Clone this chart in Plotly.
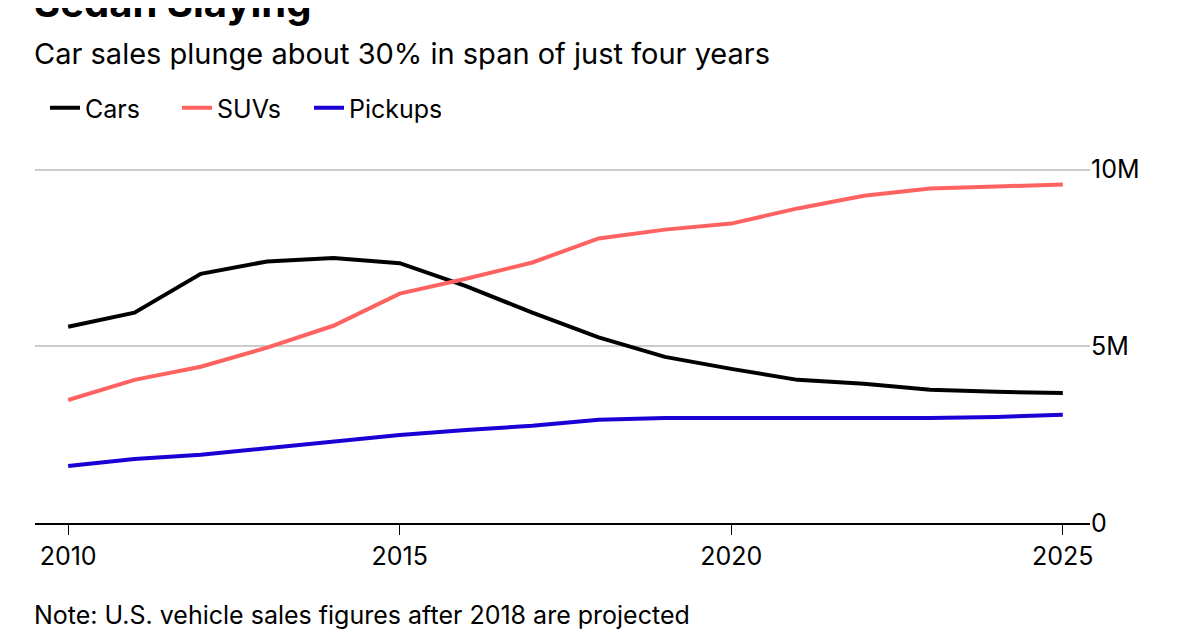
import plotly.graph_objects as go

years = list(range(2010, 2026))
cars = [5.55, 5.95, 7.05, 7.4, 7.5, 7.35, 6.7, 5.95, 5.25, 4.7, 4.36, 4.05, 3.94, 3.77, 3.71, 3.68]
suvs = [3.48, 4.05, 4.42, 4.96, 5.58, 6.49, 6.91, 7.37, 8.05, 8.3, 8.47, 8.9, 9.26, 9.46, 9.52, 9.58]
pickups = [1.61, 1.81, 1.93, 2.12, 2.29, 2.49, 2.63, 2.75, 2.92, 2.97, 2.97, 2.97, 2.97, 2.97, 3.0, 3.06]

FONT = "Inter, 'Liberation Sans', Arial, sans-serif"

fig = go.Figure()
for name, vals, color in [("Cars", cars, "#000000"), ("SUVs", suvs, "#ff6361"), ("Pickups", pickups, "#1b00d6")]:
    fig.add_trace(go.Scatter(x=years, y=[v * 1e6 for v in vals], mode="lines", name=name,
                             line=dict(color=color, width=4)))

# page has an 8px body margin, so figure coords are screen coords minus 8
fig.update_layout(
    width=1200, height=630,
    margin=dict(l=27, r=118, t=158, b=115, autoexpand=False),
    paper_bgcolor="white", plot_bgcolor="white",
    font=dict(family=FONT, size=25, color="#000"),
    showlegend=True,
    legend=dict(orientation="h", x=10 / 1055, y=1 - 100 / 630, xref="paper", yref="container",
                yanchor="middle", font=dict(size=25), traceorder="normal",
                entrywidth=87, entrywidthmode="pixels"),
    xaxis=dict(range=[2009.5, 2025.41], tickvals=[2010, 2015, 2020, 2025], showgrid=False,
               showline=True, linecolor="#000", linewidth=1.5, ticks="outside", ticklen=10,
               tickcolor="#000", zeroline=False, tickfont=dict(size=25), automargin=False),
    yaxis=dict(range=[0, 10.1e6], side="right", tickvals=[0, 5e6, 10e6], ticktext=["0", "5M", "10M"],
               showgrid=True, gridcolor="#cccccc", gridwidth=1.5, zeroline=False,
               ticks="", tickfont=dict(size=25), automargin=False),
)

fig.add_annotation(text="<b>Sedan Slaying</b>", xref="paper", yref="paper", x=0, y=1.0,
                   xanchor="left", yanchor="middle", showarrow=False, font=dict(size=40),
                   xshift=-3, yshift=158 + 6)
fig.add_annotation(text="Car sales plunge about 30% in span of just four years", xref="paper", yref="paper",
                   x=0, y=1, xanchor="left", yanchor="middle", showarrow=False,
                   font=dict(size=29), xshift=-3, yshift=158 - 45)
fig.add_annotation(text="Note: U.S. vehicle sales figures after 2018 are projected", xref="paper", yref="paper",
                   x=0, y=0, xanchor="left", yanchor="middle", showarrow=False,
                   font=dict(size=25), xshift=-3, yshift=-(607 - 515))

fig.write_html("out.html")
